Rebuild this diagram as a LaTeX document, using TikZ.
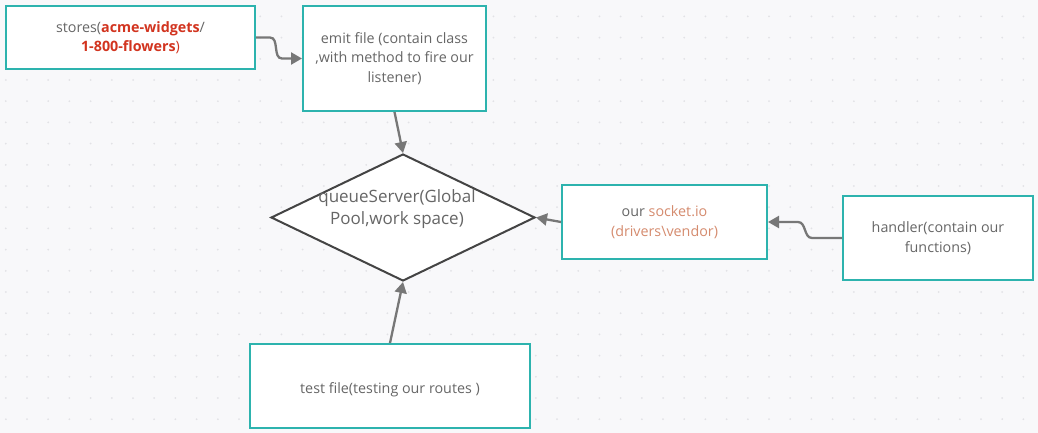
\documentclass[tikz,border=0pt]{standalone}
\usepackage{fontspec}
\setmainfont{Open Sans}
\usepackage{xcolor}
\usetikzlibrary{arrows.meta}
\usetikzlibrary{shapes.geometric}

\definecolor{bgcol}{HTML}{F8F8FA}
\definecolor{dotcol}{HTML}{E2E2E6}
\definecolor{boxcol}{HTML}{2DB3AE}
\definecolor{txtcol}{HTML}{666666}
\definecolor{redcol}{HTML}{D2341F}
\definecolor{sockcol}{HTML}{D58B6E}
\definecolor{arrcol}{HTML}{777777}
\definecolor{diacol}{HTML}{444444}

\begin{document}
\begin{tikzpicture}[x=1pt,y=-1pt,
  filebox/.style={draw=boxcol, line width=2pt, fill=white, align=center, text=txtcol,
    font=\fontsize{14.3}{19.5}\selectfont, inner sep=0pt,
    execute at begin node={\rule{0pt}{19pt}}},
  flow/.style={draw=arrcol, line width=2.3pt, -{Triangle[length=11pt,width=12pt]}}]
% background with dot grid
\fill [bgcol] (0,0) rectangle (1038,433);
\useasboundingbox (0,0) rectangle (1038,433);
\foreach \i in {0,...,48}
  \foreach \j in {0,...,20}
    \fill [dotcol] (5.8+21.2*\i,16.4+21.2*\j) circle (1);

% boxes
\node [filebox, minimum width=249, minimum height=63] (stores) at (130.5,37.5)
  {stores(\textcolor{redcol}{\textbf{acme-widgets}}/\\\textcolor{redcol}{\textbf{1-800-flowers}}\textcolor{redcol}{)}};
\node [filebox, minimum width=183, minimum height=105] (emit) at (394.5,58.5)
  {emit file (contain class\\,with method to fire our\\listener)};
\node [draw=diacol, line width=2pt, fill=white, shape=diamond, minimum width=264, minimum height=127, inner sep=0pt] (queue) at (403,217.5) {};
\node [text=txtcol, align=center, font=\fontsize{17}{22}\selectfont] (queuelbl) at (397,209) {queueServer(Global\\Pool,work space)};
\node [filebox, minimum width=205, minimum height=74] (socket) at (664.5,222)
  {our \textcolor{sockcol}{socket.io}\\\textcolor{sockcol}{(drivers\textbackslash vendor)}};
\node [filebox, minimum width=190, minimum height=84] (handler) at (938,238)
  {handler(contain our\\functions)};
\node [filebox, minimum width=280, minimum height=84] (test) at (390,386)
  {test file(testing our routes )};

% connectors
\draw [flow] (stores.east) -- ++(14,0) to[out=0,in=180] ([xshift=-20]emit.west) -- (emit.west);
\draw [flow] (emit.south) -- (queue.north);
\draw [flow] (test.north) -- (queue.south);
\draw [flow] (socket.west) -- (queue.east);
\draw [flow] (handler.west) -- ++(-30,0) to[out=180,in=0] ([xshift=30]socket.east) -- (socket.east);
\end{tikzpicture}
\end{document}
